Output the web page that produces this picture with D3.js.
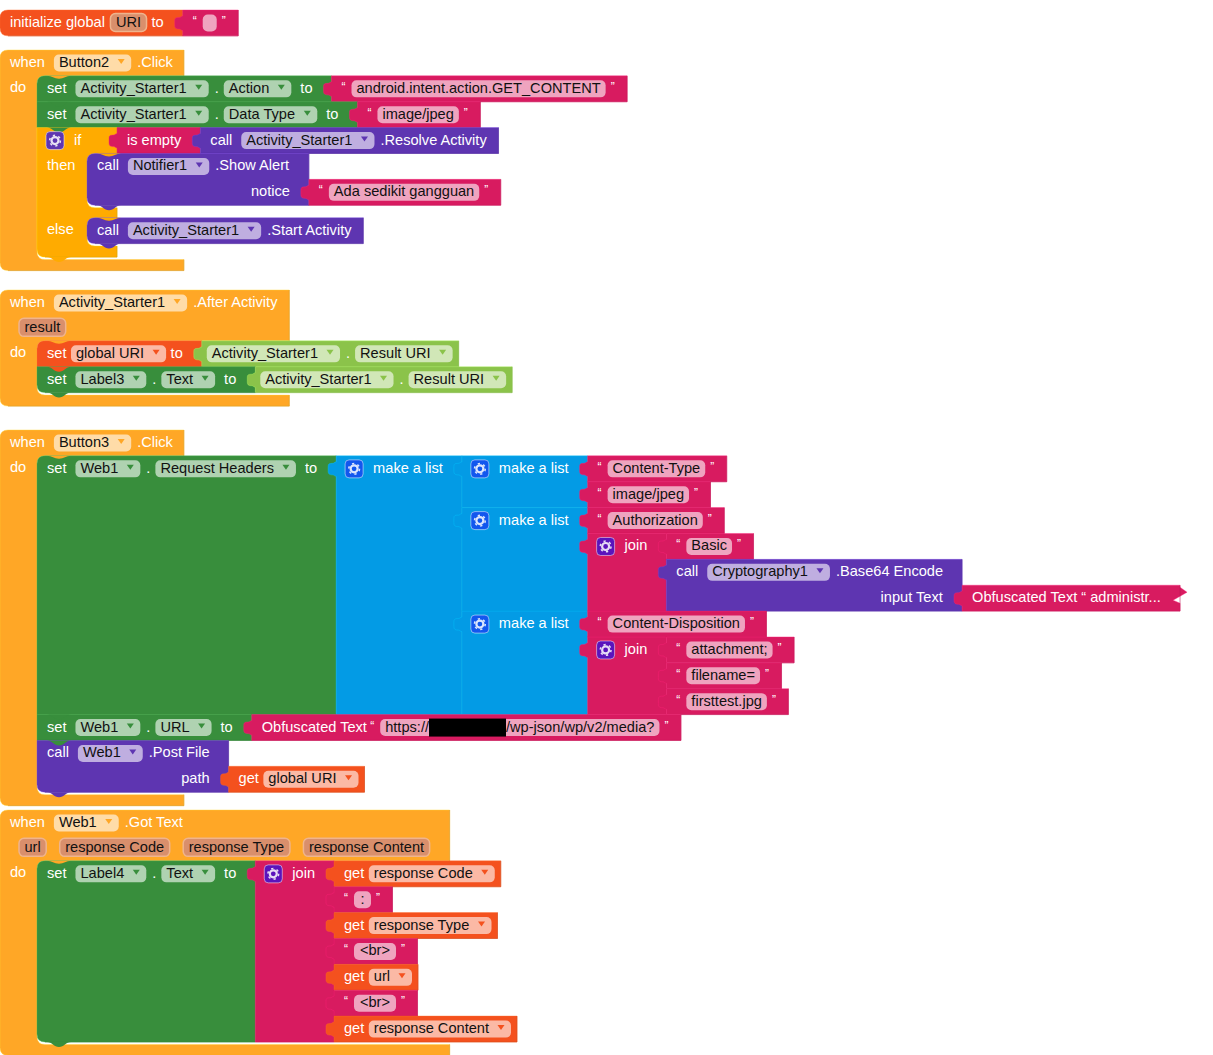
<!DOCTYPE html>
<html><head><meta charset="utf-8">
<script src="https://cdn.jsdelivr.net/npm/d3@7/dist/d3.min.js"></script>
<style>html,body{margin:0;padding:0;background:#fff;overflow:hidden}svg{display:block}</style>
</head><body><svg id="chart" width="1213" height="1055"></svg>
<script>
// ---------- block palette ----------
const palette = {hat:'#FFA726', ctrl:'#FFAB00', set:'#388E3C', str:'#D81B60', call:'#5E35B1', lex:'#F4511E', list:'#039BE5', comp:'#8BC34A'};
const gearFill = {ctrl:'#5E35B1', list:'#1257EE', str:'#5A14BC'};

// ---------- token / block constructors ----------
const lab = t => ({type:'label', t});
const drop = t => ({type:'drop', t});
const param = t => ({type:'param', t});
const gear = () => ({type:'gear'});
const row = (tokens, input) => ({tokens, input});
const value = (color, rows, extra) => Object.assign({color, rows}, extra || {});
const str = t => value('str', [row([{type:'str', t}])]);
const obf = (before, after) => value('str', [row([lab('Obfuscated Text'), {type:'str', t:before, hidden:true, after}])]);
const getVar = t => value('lex', [row([lab('get'), drop(t)])], {tight:true});
const join = items => value('str', items.map((it,i) => row(i ? [] : [gear(), lab('join')], it)), {gearColor:'str'});
const list = items => value('list', items.map((it,i) => row(i ? [] : [gear(), lab('make a list')], it)), {gearColor:'list'});
const setProp = (comp, prop, input) => value('set', [row([lab('set'), drop(comp), lab('.'), drop(prop), lab('to')], input)]);
const compGet = (comp, prop) => value('comp', [row([drop(comp), lab('.'), drop(prop)])]);
const call = (comp, method, argName, input) => value('call', argName
  ? [row([lab('call'), drop(comp), lab(method)]), row([lab(argName)], input)]
  : [row([lab('call'), drop(comp), lab(method)], input)]);
const when = (comp, event, params, stack) => ({color:'hat', hat:true, col:37,
  rows: params ? [row([lab('when'), drop(comp), lab(event)]), {tokens:params.map(param), paramRow:true}] : [row([lab('when'), drop(comp), lab(event)])],
  sections:[{label:'do', stack}]});

// ---------- chart content ----------
const initialiseGlobal = value('lex', [row([lab('initialize global'), param('URI'), lab('to')], str(''))], {top:true});

const ifNotEmpty = {color:'ctrl', col:50, minW:80, gearColor:'ctrl',
  rows:[row([gear(), lab('if')], value('str', [row([lab('is empty')], call('Activity_Starter1', '.Resolve Activity'))]))],
  sections:[
    {label:'then', stack:[call('Notifier1', '.Show Alert', 'notice', str('Ada sedikit gangguan'))]},
    {label:'else', stack:[call('Activity_Starter1', '.Start Activity')]}
  ]};
const button2Click = when('Button2', '.Click', null, [
  setProp('Activity_Starter1', 'Action', str('android.intent.action.GET_CONTENT')),
  setProp('Activity_Starter1', 'Data Type', str('image/jpeg')),
  ifNotEmpty
]);

const setGlobalUri = value('lex', [row([lab('set'), drop('global URI'), lab('to')], compGet('Activity_Starter1', 'Result URI'))], {tight:true});
const afterActivity = when('Activity_Starter1', '.After Activity', ['result'], [
  setGlobalUri,
  setProp('Label3', 'Text', compGet('Activity_Starter1', 'Result URI'))
]);

const base64Call = call('Cryptography1', '.Base64 Encode', 'input Text',
  value('str', [row([lab('Obfuscated Text \u201C administr...')])], {jag:true}));
const requestHeaders = list([
  list([str('Content-Type'), str('image/jpeg')]),
  list([str('Authorization'), join([str('Basic'), base64Call])]),
  list([str('Content-Disposition'), join([str('attachment;'), str('filename='), str('firsttest.jpg')])])
]);
const button3Click = when('Button3', '.Click', null, [
  setProp('Web1', 'Request Headers', requestHeaders),
  setProp('Web1', 'URL', obf('https://', '/wp-json/wp/v2/media?')),
  call('Web1', '.Post File', 'path', getVar('global URI'))
]);

const gotTextJoin = join([getVar('response Code'), str(':'), getVar('response Type'), str('<br>'), getVar('url'), str('<br>'), getVar('response Content')]);
const web1GotText = when('Web1', '.Got Text', ['url', 'response Code', 'response Type', 'response Content'], [
  setProp('Label4', 'Text', gotTextJoin)
]);

const scripts = [initialiseGlobal, button2Click, afterActivity, button3Click, web1GotText];

// ---------- layout constants (not data) ----------
const W = 1213, H = 1055;
const scriptTops = [10, 50, 290, 430, 810];
const rowPx = d3.scaleLinear().domain([0, 1]).range([0, 25.87]);
const FONT = '14.6px "Liberation Sans", Arial, sans-serif';
const ctx = document.createElement('canvas').getContext('2d');
ctx.font = FONT;
const tw = s => ctx.measureText(s).width;
const PILL_DROP = 27, PILL_PAD = 5, REDACT = 77;
const TAB_GAP = 19, PAD = 10, BASE = 17;
const R = 8;

function pillW(tok) {
  if (!tok.t) return 14;
  const body = tw(tok.t) + (tok.hidden ? REDACT + tw(tok.after) : 0);
  return Math.max(body + 2 * PILL_PAD + (tok.t.length < 5 ? 2 : 0), 17);
}
function tokenW(tok) {
  if (tok.type === 'label') return tw(tok.t);
  if (tok.type === 'drop') return tw(tok.t) + PILL_DROP;
  if (tok.type === 'param') return tw(tok.t) + 2 * PILL_PAD + 1;
  if (tok.type === 'gear') return 18;
  if (tok.type === 'str') return 10 + pillW(tok) + 11.5;
  return 0;
}
function gapBetween(n, a, b) {
  if (a.type === 'gear') return 10;
  if (a.type === 'label' && a.t === '.') return 5;
  if (b.type === 'label' && b.t[0] === '.') return 6;
  if (a.type === 'label' && b.type === 'str') return 3;
  if (n.tight) return 4.5;
  if (a.type === 'param' && b.type === 'param') return 13.5;
  if (a.type === 'param') return 5;
  if (b.type === 'param') return 5.5;
  return 9;
}
function tokensW(n, r) {
  return r.tokens.reduce((s, t, i) => s + tokenW(t) + (i ? gapBetween(n, r.tokens[i-1], t) : 0), 0);
}
function leftPad(n, r) {
  if (r.paramRow) return 19;
  const f = r.tokens[0];
  if (f && (f.type === 'drop')) return 5;
  if (f && f.type === 'gear') return 9;
  return PAD;
}
function rightPad(n, r) {
  if (r.input || n.rows.some(q => q.input)) return TAB_GAP;
  if (r.paramRow) return 20;
  const l = r.tokens[r.tokens.length - 1];
  if (l && l.type === 'drop') return 6;
  if (l && l.type === 'str') return 10;
  return n.jag ? 19 : 11;
}
function measure(n) {
  n.rows.forEach(r => {
    if (r.input) measure(r.input);
    r.h = r.input ? r.input.h : (r.paramRow ? 25 : rowPx(1));
    r.w = leftPad(n, r) + tokensW(n, r) + rightPad(n, r);
  });
  n.w = Math.max(d3.max(n.rows, r => r.w), n.minW || 0);
  n.h = d3.sum(n.rows, r => r.h);
  if (n.sections) {
    n.sections.forEach(s => {
      s.stack.forEach(measure);
      s.h = d3.sum(s.stack, b => b.h) + 2.5;
    });
    n.h += d3.sum(n.sections, s => s.h) + 10 * (n.sections.length - 1) + 11;
  }
  return n;
}

// flattened drawing lists
const outlines = [], bumps = [], pills = [], tris = [], texts = [], quotes = [], redactions = [], gears = [];

function blockPath(n, x, y, roundTop, roundBottom, hasTab) {
  const p = d3.path(), e = d3.path();
  const w = n.w, h = n.h;
  if (roundTop) { p.moveTo(x + R, y); } else { p.moveTo(x, y); }
  p.lineTo(x + w, y);
  let cy = y + d3.sum(n.rows, r => r.h);
  if (n.sections) {
    n.sections.forEach((s, i) => {
      e.moveTo(x + w, i ? cy - 10 : y); e.lineTo(x + w, cy);
      p.lineTo(x + w, cy);
      p.lineTo(x + n.col + R, cy);
      p.quadraticCurveTo(x + n.col, cy, x + n.col, cy + R);
      p.lineTo(x + n.col, cy + s.h - R);
      p.quadraticCurveTo(x + n.col, cy + s.h, x + n.col + R, cy + s.h);
      p.lineTo(x + w, cy + s.h);
      cy += s.h + 10;
    });
    e.moveTo(x + w, cy - 10);
  } else {
    e.moveTo(x + w, y);
  }
  if (n.jag) {
    p.lineTo(x + w, y + 2); p.lineTo(x + w + 7, y + 7); p.lineTo(x + w - 7, y + 15); p.lineTo(x + w, y + 18);
  }
  p.lineTo(x + w, y + h);
  e.lineTo(x + w, y + h);
  if (roundBottom) {
    p.lineTo(x + R, y + h);
    p.quadraticCurveTo(x, y + h, x, y + h - R);
    e.lineTo(x + R, y + h);
  } else {
    p.lineTo(x, y + h);
    e.lineTo(x, y + h);
  }
  if (hasTab) {
    p.lineTo(x, y + 20.5);
    p.bezierCurveTo(x - 1.5, y + 20.5, x - 2, y + 19, x - 3.5, y + 19);
    p.bezierCurveTo(x - 7, y + 19, x - 8, y + 18, x - 8, y + 15);
    p.lineTo(x - 8, y + 11);
    p.bezierCurveTo(x - 8, y + 8, x - 7, y + 7.5, x - 3.5, y + 7.5);
    p.bezierCurveTo(x - 2, y + 7.5, x - 1.5, y + 6, x, y + 6);
  }
  if (roundTop) { p.lineTo(x, y + R); p.quadraticCurveTo(x, y, x + R, y); }
  p.closePath();
  const c = palette[n.color];
  outlines.push({d: p.toString(), fill: c, stroke: d3.color(c).brighter(0.7), op: 0.5});
  outlines.push({d: e.toString(), fill: 'none', stroke: d3.color(c).darker(0.5), op: 0.7});
}
function bump(x, y, color, depth) {
  const p = d3.path();
  p.moveTo(x + 10, y);
  p.bezierCurveTo(x + 15, y, x + 17, y + depth, x + 22, y + depth);
  p.bezierCurveTo(x + 27, y + depth, x + 29, y, x + 34, y);
  p.closePath();
  bumps.push({d: p.toString(), color});
}
function place(n, x, y, ctx_) {
  const o = ctx_ || {};
  blockPath(n, x, y, !!(o.first || n.hat || n.top), !!(o.last || n.hat || n.top), !!o.tab);
  if (o.stmt) bump(x, y + n.h, palette[n.color], 5);
  let cy = y;
  n.rows.forEach((r, ri) => {
    const rowLeft = ri > 0 && !r.paramRow ? x + n.w - TAB_GAP - tokensW(n, r) : x + leftPad(n, r);
    let cx = rowLeft;
    r.tokens.forEach((t, i) => {
      if (i) cx += gapBetween(n, r.tokens[i-1], t);
      drawToken(n, t, cx, cy, r);
      cx += tokenW(t);
    });
    if (r.input) place(r.input, x + n.w, cy, {tab:true});
    cy += r.h;
  });
  if (n.sections) {
    n.sections.forEach(s => {
      texts.push({x: x + PAD, y: cy + BASE - 0.5, t: s.label, fill:'#fff'});
      let sy = cy;
      s.stack.forEach((b, i) => {
        place(b, x + n.col, sy, {stmt:true, first: i === 0, last: i === s.stack.length - 1});
        sy += b.h;
      });
      bump(x + n.col, cy, palette[n.color], 3);
      cy += s.h + 10;
    });
  }
}
function drawToken(n, t, x, y, r) {
  const color = palette[n.color];
  if (t.type === 'label') texts.push({x, y: y + BASE, t: t.t, fill:'#fff'});
  if (t.type === 'gear') gears.push({x, y: y + 4, fill: gearFill[n.gearColor]});
  if (t.type === 'drop') {
    const w = tokenW(t);
    pills.push({x, y: y + 4.5, w, h: 17, fill: d3.interpolateRgb(color, '#fff')(0.6)});
    texts.push({x: x + PILL_PAD, y: y + BASE, t: t.t, fill:'#111'});
    tris.push({x: x + w - 10, y: y + 11.5, color});
  }
  if (t.type === 'param') {
    const lift = r.paramRow ? 1 : 0;
    pills.push({x, y: y + 3.5 - lift, w: tokenW(t), h: 18, fill:'#D98F6C', stroke:'#EFB48D'});
    texts.push({x: x + PILL_PAD + 0.5, y: y + BASE - lift, t: t.t, fill:'#111'});
  }
  if (t.type === 'str') {
    const px = x + 10, w = pillW(t);
    quotes.push({x, y: y + 15, t:'\u201C'});
    pills.push({x: px, y: y + 4.5, w, h: 17, fill: d3.interpolateRgb(color, '#fff')(0.6)});
    if (t.hidden) {
      texts.push({x: px + PILL_PAD, y: y + BASE, t: t.t, fill:'#111'});
      const rx = px + PILL_PAD + tw(t.t);
      redactions.push({x: rx, y: y + 4, w: REDACT, h: 18});
      texts.push({x: rx + REDACT, y: y + BASE, t: t.after, fill:'#111'});
    } else if (t.t) {
      texts.push({x: px + (w - tw(t.t)) / 2, y: y + BASE, t: t.t, fill:'#111'});
    }
    quotes.push({x: px + w + 5, y: y + 15, t:'\u201D'});
  }
}

scripts.forEach((s, i) => { measure(s); place(s, 0, scriptTops[i]); });

// ---------- rendering ----------
const svg = d3.select('#chart').attr('viewBox', [0, 0, W, H]);
// tree order, so children paint over parents
svg.append('g').selectAll('path').data(outlines).join('path')
  .attr('d', d => d.d).attr('fill', d => d.fill)
  .attr('stroke', d => d.stroke).attr('stroke-opacity', d => d.op).attr('stroke-width', 0.8);
svg.append('g').selectAll('path').data(bumps).join('path')
  .attr('d', d => d.d).attr('fill', d => d.color);
svg.append('g').selectAll('rect').data(pills).join('rect')
  .attr('x', d => d.x).attr('y', d => d.y).attr('width', d => d.w).attr('height', d => d.h)
  .attr('rx', 5).attr('ry', 5).attr('fill', d => d.fill)
  .attr('stroke', d => d.stroke || 'none').attr('stroke-width', 1.5);
svg.append('g').selectAll('path').data(tris).join('path')
  .attr('d', d => { const p = d3.path(); p.moveTo(d.x - 3.5, d.y - 2.5); p.lineTo(d.x + 3.5, d.y - 2.5); p.lineTo(d.x, d.y + 2.5); p.closePath(); return p.toString(); })
  .attr('fill', d => d.color);
const gearG = svg.append('g').selectAll('g').data(gears).join('g')
  .attr('transform', d => `translate(${d.x},${d.y})`);
gearG.append('rect').attr('width', 18).attr('height', 18).attr('rx', 4)
  .attr('fill', d => d.fill).attr('stroke', '#fff').attr('stroke-opacity', 0.5).attr('stroke-width', 1);
gearG.append('circle').attr('cx', 9).attr('cy', 9).attr('r', 3.5).attr('fill', 'none').attr('stroke', '#fff').attr('stroke-opacity', 0.85).attr('stroke-width', 2.2);
gearG.append('circle').attr('cx', 9).attr('cy', 9).attr('r', 5.4).attr('fill', 'none').attr('stroke', '#fff').attr('stroke-opacity', 0.85).attr('stroke-width', 1.5).attr('stroke-dasharray', '2.3 3.35');
svg.append('g').selectAll('rect').data(redactions).join('rect')
  .attr('x', d => d.x).attr('y', d => d.y).attr('width', d => d.w).attr('height', d => d.h).attr('fill', '#000');
svg.append('g').selectAll('text').data(quotes).join('text')
  .attr('x', d => d.x).attr('y', d => d.y).text(d => d.t)
  .attr('fill', '#fff').style('font', '12px "Liberation Sans", Arial, sans-serif');
svg.append('g').selectAll('text').data(texts).join('text')
  .attr('x', d => d.x).attr('y', d => d.y).text(d => d.t)
  .attr('fill', d => d.fill).style('font', FONT);
</script></body></html>
